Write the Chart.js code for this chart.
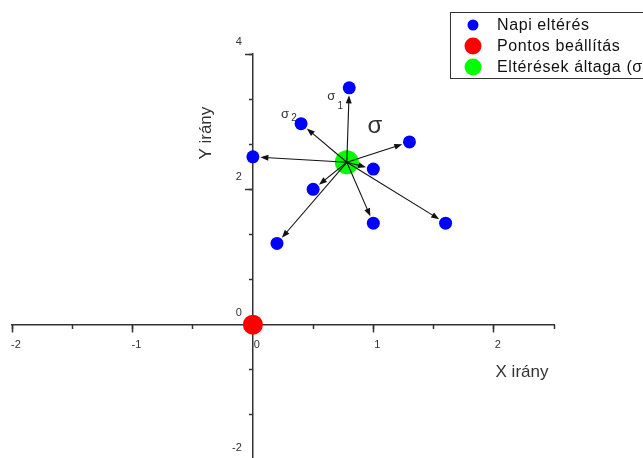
<!DOCTYPE html>
<html>
<head>
<meta charset="utf-8">
<script src="https://cdn.jsdelivr.net/npm/chart.js@4/dist/chart.umd.min.js"></script>
<style>
  html, body { margin: 0; padding: 0; background: #fff; overflow: hidden; }
  #wrap { position: relative; width: 643px; height: 480px; }
</style>
</head>
<body>
<div id="wrap"><canvas id="chart" width="643" height="480"></canvas></div>
<script>
// ── data ─────────────────────────────────────────────────────────────────
const dailyX  = [0.8, 0.4, 0.0, 1.3, 1.0, 0.5, 1.0, 1.6, 0.2];
const dailyY  = [3.5, 2.97, 2.48, 2.7, 2.3, 2.0, 1.5, 1.5, 1.2];
const targetX = [0];
const targetY = [0];
const meanX   = [0.78];
const meanY   = [2.4];
const seriesNames = ['Napi eltérés', 'Pontos beállítás', 'Eltérések áltaga (σ)'];

const xMajorTicks = [-2, -1, 0, 1, 2];
const xMinorTicks = [-2, -1.5, -1, -0.5, 0, 0.5, 1, 1.5, 2, 2.5];
const yMajorTicks = [-2, 0, 2, 4];
const yMinorTicks = [-2, -4/3, -2/3, 0, 2/3, 4/3, 2, 8/3, 10/3, 4];

const FONT = "'Liberation Sans', Arial, sans-serif";
const INK  = '#333';
const COLORS = { daily: '#0000ff', target: '#ff0000', mean: '#00ff00' };

const toPts = (xs, ys) => xs.map((x, i) => ({ x, y: ys[i] }));
const setTicks = list => scale => { scale.ticks = list.map(v => ({ value: v })); };

// ── overlay: arrows, sigma labels, axis titles, legend ──────────────────
const overlay = {
  id: 'overlay',
  beforeDatasetsDraw(chart) {
    const { ctx, scales: { x, y } } = chart;
    const p = i => [x.getPixelForValue(dailyX[i]), y.getPixelForValue(dailyY[i])];
    const c = [x.getPixelForValue(meanX[0]), y.getPixelForValue(meanY[0])];
    ctx.save();
    ctx.fillStyle = INK;
    ctx.textBaseline = 'middle';
    ctx.textAlign = 'center';
    // σ1 next to the top point, σ2 next to the upper-left point
    let [px, py] = p(0);
    ctx.font = `13px ${FONT}`;
    ctx.fillText('σ', px - 18, py + 9);
    ctx.font = `10px ${FONT}`;
    ctx.fillText('1', px - 9, py + 18);
    [px, py] = p(1);
    ctx.font = `13px ${FONT}`;
    ctx.fillText('σ', px - 16, py - 9);
    ctx.font = `10px ${FONT}`;
    ctx.fillText('2', px - 7, py - 5);
    ctx.font = `24px ${FONT}`;
    ctx.fillText('σ', c[0] + 28, c[1] - 36);
    ctx.restore();
  },
  afterDatasetsDraw(chart) {
    const { ctx, scales: { x, y } } = chart;
    const cx = x.getPixelForValue(meanX[0]);
    const cy = y.getPixelForValue(meanY[0]);
    ctx.save();
    ctx.strokeStyle = '#111';
    ctx.fillStyle = '#111';
    ctx.lineWidth = 1.1;
    dailyX.forEach((dx, i) => {
      const px = x.getPixelForValue(dx);
      const py = y.getPixelForValue(dailyY[i]);
      const len = Math.hypot(px - cx, py - cy);
      const ux = (px - cx) / len, uy = (py - cy) / len;
      const tx = px - ux * 7.5, ty = py - uy * 7.5;
      ctx.beginPath();
      ctx.moveTo(cx, cy);
      ctx.lineTo(tx - ux * 4, ty - uy * 4);
      ctx.stroke();
      ctx.beginPath();
      ctx.moveTo(tx, ty);
      ctx.lineTo(tx - ux * 8 - uy * 3, ty - uy * 8 + ux * 3);
      ctx.lineTo(tx - ux * 8 + uy * 3, ty - uy * 8 - ux * 3);
      ctx.closePath();
      ctx.fill();
    });

    // axis titles
    const ox = x.getPixelForValue(0), oy = y.getPixelForValue(0);
    ctx.fillStyle = INK;
    ctx.font = `17px ${FONT}`;
    ctx.textAlign = 'center';
    ctx.textBaseline = 'middle';
    ctx.fillText('X irány', x.right - 32, oy + 48);
    ctx.save();
    ctx.translate(ox - 47, y.getPixelForValue(2.83));
    ctx.rotate(-Math.PI / 2);
    ctx.fillText('Y irány', 0, 0);
    ctx.restore();

    // legend box
    const lx = 450.5, ly = 12.5;
    ctx.strokeStyle = INK;
    ctx.lineWidth = 1;
    ctx.strokeRect(lx, ly, 220, 66);
    const rows = [
      { color: COLORS.daily,  r: 5.5 },
      { color: COLORS.target, r: 8.5 },
      { color: COLORS.mean,   r: 8.5 },
    ];
    ctx.font = `16px ${FONT}`;
    ctx.textAlign = 'left';
    ctx.letterSpacing = '0.6px';
    rows.forEach((row, i) => {
      const ry = ly + 12.5 + i * 21;
      ctx.fillStyle = row.color;
      ctx.beginPath();
      ctx.arc(lx + 22.5, ry, row.r, 0, Math.PI * 2);
      ctx.fill();
      ctx.fillStyle = '#111';
      ctx.fillText(seriesNames[i], lx + 46.5, ry + 1);
    });
    ctx.restore();
  }
};

const tickFont = { family: FONT, size: 11 };

new Chart(document.getElementById('chart'), {
  type: 'scatter',
  data: {
    datasets: [
      { label: seriesNames[0], data: toPts(dailyX, dailyY),   backgroundColor: COLORS.daily,  borderWidth: 0, pointRadius: 6.5 },
      { label: seriesNames[1], data: toPts(targetX, targetY), backgroundColor: COLORS.target, borderWidth: 0, pointRadius: 10 },
      { label: seriesNames[2], data: toPts(meanX, meanY),     backgroundColor: COLORS.mean,   borderWidth: 0, pointRadius: 12 },
    ]
  },
  options: {
    responsive: false,
    animation: false,
    layout: { padding: { left: 11, right: 89, top: 54, bottom: 20 } },
    plugins: { legend: { display: false }, tooltip: { enabled: false } },
    scales: {
      x: {
        type: 'linear', min: -2, max: 2.5, position: { y: 0 },
        afterBuildTicks: setTicks(xMajorTicks),
        grid: { drawOnChartArea: false, tickLength: 7, tickColor: INK, tickWidth: 1.5 },
        border: { color: INK, width: 1.5 },
        ticks: { color: INK, font: tickFont, padding: 7, labelOffset: 4, autoSkip: false, maxRotation: 0, callback: v => String(v) }
      },
      xMinor: {
        type: 'linear', axis: 'x', min: -2, max: 2.5, position: { y: 0 },
        afterBuildTicks: setTicks(xMinorTicks),
        grid: { drawOnChartArea: false, tickLength: 4, tickColor: INK, tickWidth: 1.5 },
        border: { display: false },
        ticks: { display: false }
      },
      y: {
        type: 'linear', min: -2, max: 4, position: { x: 0 },
        afterBuildTicks: setTicks(yMajorTicks),
        grid: { drawOnChartArea: false, tickLength: 7, tickColor: INK, tickWidth: 1.5 },
        border: { color: INK, width: 1.5 },
        // trailing en spaces push the labels off the axis line
        ticks: { color: INK, font: tickFont, padding: 2, labelOffset: -12, autoSkip: false, callback: v => String(v) + '\u2002\u2002' }
      },
      yMinor: {
        type: 'linear', axis: 'y', min: -2, max: 4, position: { x: 0 },
        afterBuildTicks: setTicks(yMinorTicks),
        grid: { drawOnChartArea: false, tickLength: 4, tickColor: INK, tickWidth: 1.5 },
        border: { display: false },
        ticks: { display: false }
      }
    }
  },
  plugins: [overlay]
});
</script>
</body>
</html>
